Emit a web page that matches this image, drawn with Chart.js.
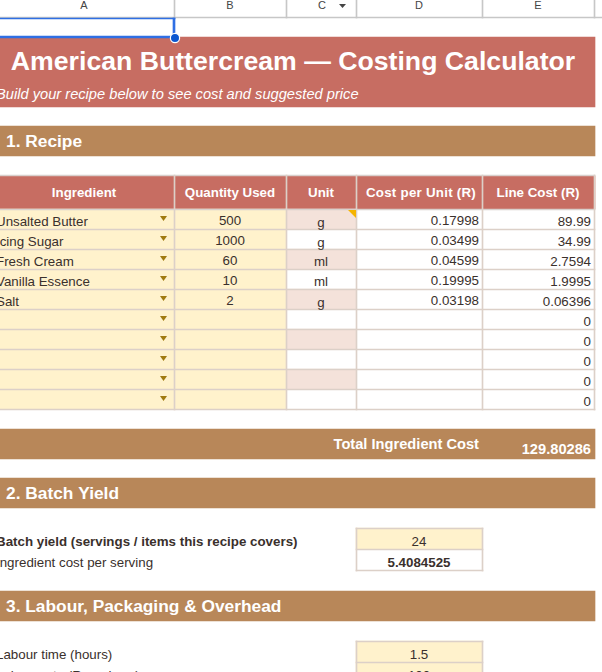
<!DOCTYPE html>
<html>
<head>
<meta charset="utf-8">
<style>html,body{margin:0;padding:0;background:#fff;overflow:hidden}canvas{display:block}</style>
<script src="https://cdn.jsdelivr.net/npm/chart.js@4"></script>
</head>
<body>
<canvas id="c" width="602" height="672" style="width:602px;height:672px"></canvas>
<script>
// ---- sheet content ----
const columnLetters = ['A','B','C','D','E'];
const titleText = 'American Buttercream — Costing Calculator';
const subtitleText = 'Build your recipe below to see cost and suggested price';
const sectionTitles = ['1. Recipe','2. Batch Yield','3. Labour, Packaging & Overhead'];
const tableHeaders = ['Ingredient','Quantity Used','Unit','Cost per Unit (R)','Line Cost (R)'];
const ingredients = ['Unsalted Butter','Icing Sugar','Fresh Cream','Vanilla Essence','Salt','','','','',''];
const quantities = ['500','1000','60','10','2','','','','',''];
const units = ['g','g','ml','ml','g','','','','',''];
const costPerUnit = ['0.17998','0.03499','0.04599','0.19995','0.03198','','','','',''];
const lineCosts = ['89.99','34.99','2.7594','1.9995','0.06396','0','0','0','0','0'];
const totalLabel = 'Total Ingredient Cost';
const totalValue = '129.80286';
const yieldLabels = ['Batch yield (servings / items this recipe covers)','Ingredient cost per serving'];
const yieldValues = ['24','5.4084525'];
const labourLabels = ['Labour time (hours)','Labour rate (R per hour)'];
const labourValues = ['1.5','100'];

// ---- sheet geometry (column and row edges of the grid) ----
const colEdges = [0,174,286,356,482,594];
const rowEdges = [209,229,249,269,289,309,329,349,369,389,409];
const RED='#c76d62', TAN='#b88759', CREAM='#fff2cc', PINK='#f4e2da', LINE='#dcd0c8', HEAD='#c7c7c7', BLUE='#2f6fe4', INK='#3a302c';

function barSet(x0,x1,bands,color,order){
  return {type:'bar',grouped:false,barThickness:x1-x0,data:bands.map(b=>({x:(x0+x1)/2,y:b})),backgroundColor:color,borderWidth:0,order:order,clip:false};
}
function chip(w,h,color){
  const k=document.createElement('canvas'); k.width=w; k.height=h;
  const g=k.getContext('2d'); g.fillStyle=color; g.beginPath(); g.moveTo(0,0); g.lineTo(w,0); g.lineTo(w/2,h); g.closePath(); g.fill();
  return k;
}
const datasets=[];
const allRows = ingredients.map((_,i)=>[rowEdges[i],rowEdges[i+1]]);
// banners
datasets.push(barSet(0,595,[[37,107]],RED,50));
datasets.push(barSet(0,595,[[126,156],[429,459],[478,508],[591,621]],TAN,50));
datasets.push(barSet(0,595,[[176,209]],RED,50));
// body columns
datasets.push(barSet(colEdges[0],colEdges[2],allRows,CREAM,40));
datasets.push(barSet(colEdges[2],colEdges[3],allRows.filter((_,i)=>i%2===0),PINK,40));
datasets.push(barSet(colEdges[3],colEdges[4],[[528,549],[641,662],[662,672]],CREAM,40));
// table rules
datasets.push(barSet(0,595,rowEdges.slice(1).map(y=>[y,y+1]),LINE,30));
datasets.push(barSet(0,595,[[175,176]],'#d8d0cc',30));
datasets.push(barSet(0,595,[[209,210]],'#d8d0cc',30));
colEdges.slice(1).forEach(x=>{ datasets.push(barSet(x,x+1,[[175,410]],LINE,29)); });
// batch and labour boxes
[[528,571],[641,672]].forEach(b=>{
  datasets.push(barSet(356,483,[[b[0],b[0]+1]],LINE,29));
  datasets.push(barSet(356,357,[b],LINE,29));
  datasets.push(barSet(482,483,[b],LINE,29));
});
datasets.push(barSet(356,483,[[549,550],[570,571],[662,663]],LINE,29));
// column header strip
datasets.push(barSet(0,602,[[17,18]],HEAD,20));
colEdges.slice(1).forEach(x=>{ datasets.push(barSet(x,x+1,[[0,18]],HEAD,20)); });
// selected cell outline
datasets.push(barSet(0,175,[[18,19],[36,38]],BLUE,10));
datasets.push(barSet(173,175,[[18,38]],BLUE,10));
// dropdown chips
datasets.push({type:'scatter',data:ingredients.map((_,i)=>({x:163.5,y:rowEdges[i]+9.5})),pointStyle:chip(7,5,'#a07a10'),radius:4,order:5,clip:false});
datasets.push({type:'scatter',data:[{x:342.5,y:6}],pointStyle:chip(7,4,'#444'),radius:4,order:5,clip:false});
// selection handle
datasets.push({type:'scatter',data:[{x:175,y:38}],pointStyle:'circle',radius:4.6,backgroundColor:'#0b57d0',borderColor:'#fff',borderWidth:1.2,order:1,clip:false});

const textPlugin={
  id:'sheetText',
  beforeDraw(chart){
    const c=chart.ctx; c.save(); c.fillStyle='#fff'; c.fillRect(0,0,chart.width,chart.height); c.restore();
  },
  afterDatasetsDraw(chart){
    const c=chart.ctx, X=v=>chart.scales.x.getPixelForValue(v), Y=v=>chart.scales.y.getPixelForValue(v);
    const t=(s,x,y,font,color,align,sp)=>{c.font=font;c.letterSpacing=sp||'0px';c.fillStyle=color;c.textAlign=align||'left';c.textBaseline='alphabetic';c.fillText(s,X(x),Y(y));};
    const F='"Liberation Sans", Arial, sans-serif';
    const N='13.33px '+F, B='bold 13.33px '+F, S='bold 17.33px '+F, T='bold 14.67px '+F;
    c.save();
    // comment marker
    c.fillStyle='#f5b400'; c.beginPath(); c.moveTo(X(348),Y(210)); c.lineTo(X(356),Y(210)); c.lineTo(X(356),Y(218)); c.closePath(); c.fill();
    // column letters
    const centre=i=>i===0?84:(colEdges[i]+colEdges[i+1])/2;
    columnLetters.forEach((l,i)=>t(l,i===2?322:centre(i),9,'11px '+F,'#444','center'));
    t(titleText,293,70,'bold 26.67px '+F,'#fff','center');
    t(subtitleText,-4,99,'italic 14.67px '+F,'#fff');
    t(sectionTitles[0],6,147,S,'#fff');
    t(sectionTitles[1],6,499,S,'#fff');
    t(sectionTitles[2],6,612,S,'#fff');
    tableHeaders.forEach((h,i)=>t(h,i===3?421:centre(i),197,B,'#fff','center',i===3?'0.25px':'0px'));
    ingredients.forEach((v,i)=>{
      const base=rowEdges[i]+17;
      t(v,-4,base,N,INK);
      t(quantities[i],230,base-1,N,INK,'center');
      t(units[i],321,base+(units[i]==='g'?1:0),N,INK,'center');
      t(costPerUnit[i],479,base-1,N,INK,'right');
      t(lineCosts[i],591,base,N,INK,'right');
    });
    t(totalLabel,479,449,T,'#fff','right');
    t(totalValue,591,454,T,'#fff','right');
    t(yieldLabels[0],-4,546,B,INK);
    t(yieldLabels[1],-4,567,N,INK);
    t(yieldValues[0],419,546,N,INK,'center');
    t(yieldValues[1],419,567,B,INK,'center');
    t(labourLabels[0],-4,659,N,INK);
    t(labourLabels[1],-4,680,N,INK);
    t(labourValues[0],419,659,N,INK,'center');
    t(labourValues[1],419,680,N,INK,'center');
    c.restore();
  }
};

const canvas=document.getElementById('c');
canvas.getContext('2d',{alpha:false});
new Chart(canvas,{
  data:{datasets:datasets},
  options:{
    responsive:false,animation:false,devicePixelRatio:1,
    layout:{padding:0,autoPadding:false},
    plugins:{legend:{display:false},tooltip:{enabled:false},title:{display:false}},
    scales:{
      x:{type:'linear',min:0,max:602,display:false,offset:false},
      y:{type:'linear',min:0,max:672,reverse:true,display:false}
    }
  },
  plugins:[textPlugin]
});
</script>
</body>
</html>
